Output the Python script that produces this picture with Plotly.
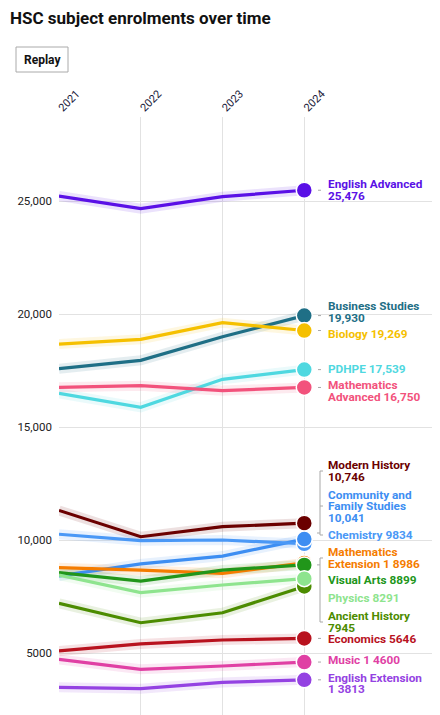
import plotly.graph_objects as go

years = [2021, 2022, 2023, 2024]

subjects = [
    "English Advanced", "Business Studies", "Biology", "PDHPE", "Mathematics Advanced",
    "Modern History", "Community and Family Studies", "Chemistry", "Mathematics Extension 1",
    "Visual Arts", "Physics", "Ancient History", "Economics", "Music 1", "English Extension 1",
]

english_advanced = [25220, 24660, 25190, 25476]
business_studies = [17580, 17950, 18995, 19930]
biology = [18670, 18880, 19615, 19269]
pdhpe = [16490, 15870, 17110, 17539]
mathematics_advanced = [16755, 16830, 16610, 16750]
modern_history = [11310, 10145, 10590, 10746]
community_family = [8410, 8940, 9290, 10041]
chemistry = [10255, 9970, 10000, 9834]
mathematics_ext1 = [8775, 8670, 8525, 8986]
visual_arts = [8555, 8185, 8670, 8899]
physics = [8450, 7670, 8010, 8291]
ancient_history = [7200, 6340, 6780, 7945]
economics = [5090, 5400, 5575, 5646]
music1 = [4720, 4280, 4425, 4600]
english_ext1 = [3480, 3420, 3700, 3813]

series = [english_advanced, business_studies, biology, pdhpe, mathematics_advanced,
          modern_history, community_family, chemistry, mathematics_ext1, visual_arts,
          physics, ancient_history, economics, music1, english_ext1]

label_lines = [
    ["English Advanced", "25,476"],
    ["Business Studies", "19,930"],
    ["Biology 19,269"],
    ["PDHPE 17,539"],
    ["Mathematics", "Advanced 16,750"],
    ["Modern History", "10,746"],
    ["Community and", "Family Studies", "10,041"],
    ["Chemistry 9834"],
    ["Mathematics", "Extension 1 8986"],
    ["Visual Arts 8899"],
    ["Physics 8291"],
    ["Ancient History", "7945"],
    ["Economics 5646"],
    ["Music 1 4600"],
    ["English Extension", "1 3813"],
]

colors = ["#5a10e6", "#1f6f86", "#f5c000", "#4fd8e0", "#f2527c",
          "#6b0000", "#3d8ef2", "#4a98f6", "#f57c00", "#21961a",
          "#8ee48e", "#4c8c00", "#b8121e", "#e040a4", "#9442e2"]

label_y_values = [25487, 20090, 19115, 17566, 16593,
                  13053, 11504, 10221, 9204, 8230,
                  7434, 6372, 5619, 4690, 3650]

y_tickvals = [5000, 10000, 15000, 20000, 25000]
y_ticktext = ["5000", "10,000", "15,000", "20,000", "25,000"]

# ---------- layout geometry (screen px; page body adds an 8px offset) ----------
OFF = 8
SW, SH = 440, 715
W, H = SW - OFF, SH - OFF
S_LEFT, S_TOP = 59, 117          # screen px of plot-area left/top
ML, MT = S_LEFT - OFF, S_TOP - OFF
PW, PH = SW - S_LEFT, SH - S_TOP
Y0, Y1 = 2257, 28717
X0, X1 = 2021, 2025.66


def px_x(px):
    return (px - S_LEFT) / PW


def px_y(py):
    return (SH - py) / PH


def to_px_y(v):
    return S_TOP + (Y1 - v) / (Y1 - Y0) * PH


def rgba(hexc, a):
    h = hexc.lstrip("#")
    r, g, b = int(h[0:2], 16), int(h[2:4], 16), int(h[4:6], 16)
    return f"rgba({r},{g},{b},{a})"


fig = go.Figure()

for name, vals, c in zip(subjects, series, colors):
    fig.add_trace(go.Scatter(x=years, y=vals, mode="lines",
                             line=dict(color=rgba(c, 0.12), width=10),
                             hoverinfo="skip", showlegend=False))
for name, vals, c in zip(subjects, series, colors):
    fig.add_trace(go.Scatter(x=years, y=vals, mode="lines", name=name,
                             line=dict(color=c, width=3.2), showlegend=False))

marker_order = [0, 1, 2, 3, 4, 5, 7, 6, 8, 9, 11, 10, 12, 13, 14]
for idx in marker_order:
    vals, c = series[idx], colors[idx]
    fig.add_trace(go.Scatter(x=[years[-1]], y=[vals[-1]], mode="markers",
                             marker=dict(color=c, size=16, line=dict(color="white", width=1.5)),
                             showlegend=False, hoverinfo="skip"))

annotations = []
LINE_H = 11.5
for lines, ly, c in zip(label_lines, label_y_values, colors):
    n = len(lines)
    for i, t in enumerate(lines):
        annotations.append(dict(
            x=px_x(326), xref="paper", y=ly, yref="y",
            text=f"<b>{t}</b>", showarrow=False, xanchor="left", yanchor="middle",
            yshift=((n - 1) / 2 - i) * LINE_H,
            font=dict(family="Roboto, Arial", size=11.8, color=c)))

annotations.append(dict(x=px_x(8), xref="paper", y=px_y(18), yref="paper",
                        text="<b>HSC subject enrolments over time</b>", showarrow=False,
                        xanchor="left", yanchor="middle",
                        font=dict(family="Roboto, Arial", size=17, color="#111")))
annotations.append(dict(x=px_x(42), xref="paper", y=px_y(60), yref="paper",
                        text="<b>Replay</b>", showarrow=False, xanchor="center", yanchor="middle",
                        font=dict(family="Roboto, Arial", size=12, color="#111")))

shapes = [dict(type="rect", xref="paper", yref="paper",
               x0=px_x(16), x1=px_x(68), y0=px_y(72), y1=px_y(47),
               line=dict(color="#aaaaaa", width=1), fillcolor="white", layer="above")]

gray = "#a8a8a8"


def seg(x0, y0, x1, y1):
    shapes.append(dict(type="line", xref="paper", yref="paper",
                       x0=px_x(x0), x1=px_x(x1), y0=px_y(y0), y1=px_y(y1),
                       line=dict(color=gray, width=1)))


for idx in [0, 1, 2, 3, 4, 12, 13, 14]:
    my = to_px_y(series[idx][-1])
    seg(318, my, 321, my)

g1_top = to_px_y(label_y_values[5])
g1_bot = to_px_y(label_y_values[7])
seg(320, g1_top, 320, g1_bot)
seg(320, g1_top, 323, g1_top)
seg(320, g1_bot, 323, g1_bot)
seg(320, to_px_y(label_y_values[6]), 323, to_px_y(label_y_values[6]))
seg(317, g1_bot - 2, 320, g1_bot - 2)

g2_top = to_px_y(label_y_values[8])
g2_bot = to_px_y(label_y_values[11])
seg(320, g2_top, 320, g2_bot)
seg(320, g2_top, 323, g2_top)
seg(320, g2_bot, 323, g2_bot)
seg(317, to_px_y(series[9][-1]), 320, to_px_y(series[9][-1]))

fig.update_layout(
    width=W, height=H,
    margin=dict(l=ML, r=0, t=MT, b=0),
    paper_bgcolor="white", plot_bgcolor="white",
    showlegend=False,
    annotations=annotations, shapes=shapes,
    font=dict(family="Roboto, Arial", color="#222"),
    xaxis=dict(range=[X0, X1], side="top", tickvals=years, ticktext=[str(y) for y in years],
               tickangle=-45, showgrid=True, gridcolor="#e2e2e2", gridwidth=1,
               zeroline=False, showline=False, ticks="", automargin=False,
               tickfont=dict(size=11, color="#1a1a3a")),
    yaxis=dict(range=[Y0, Y1], tickvals=y_tickvals, ticktext=y_ticktext,
               showgrid=True, gridcolor="#e2e2e2", gridwidth=1, zeroline=False,
               showline=False, ticks="", ticklabelstandoff=6, automargin=False,
               tickfont=dict(size=11.5, color="#222")),
)

fig.write_html("out.html")
